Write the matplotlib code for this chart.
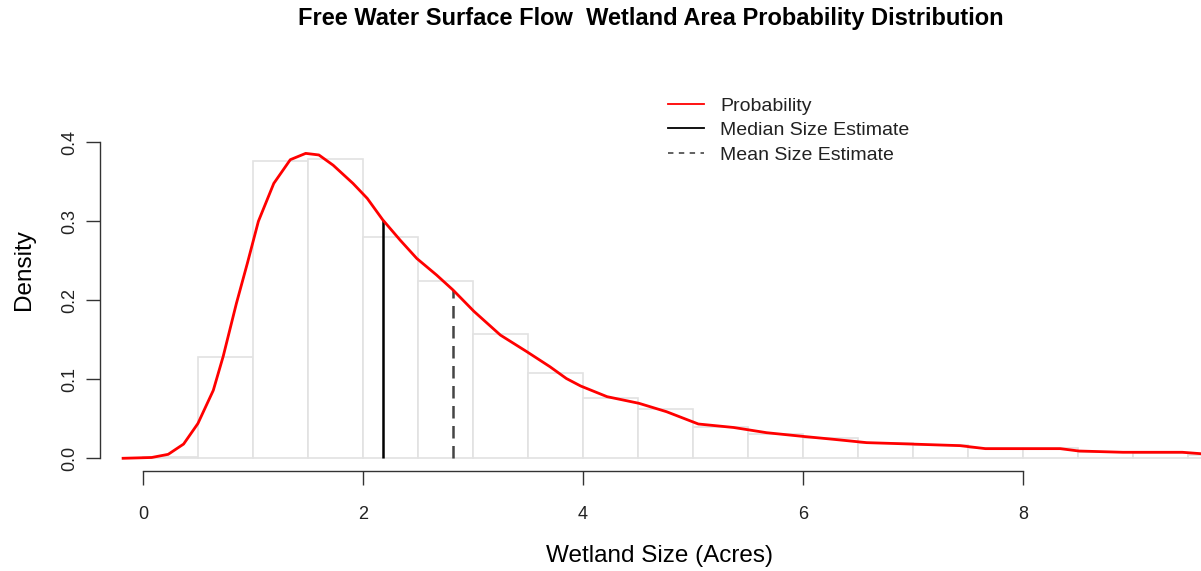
#  Import libraries
import numpy as np
import matplotlib.pyplot as plt
from matplotlib.lines import Line2D

# Histogram of wetland sizes (density scale, bins of 0.5 acre)
bin_left = [0.0, 0.5, 1.0, 1.5, 2.0, 2.5, 3.0, 3.5, 4.0, 4.5,
            5.0, 5.5, 6.0, 6.5, 7.0, 7.5, 8.0, 8.5, 9.0, 9.5]
bin_density = [0.001, 0.1286, 0.3767, 0.3785, 0.2805, 0.2248, 0.157, 0.1076, 0.0767, 0.0624,
               0.0392, 0.0308, 0.0253, 0.019, 0.0169, 0.0127, 0.0127, 0.0084, 0.0063, 0.004]

# Kernel density estimate of wetland size
kde_x = [-0.18, 0.08, 0.23, 0.37, 0.50, 0.64, 0.73, 0.85, 0.95, 1.05, 1.19, 1.34, 1.48,
         1.60, 1.73, 1.91, 2.04, 2.18, 2.34, 2.49, 2.67, 2.82, 3.01, 3.25, 3.49, 3.70,
         3.85, 3.98, 4.22, 4.51, 4.76, 5.05, 5.37, 5.67, 5.98, 6.28, 6.58, 6.88, 7.25,
         7.43, 7.66, 8.34, 8.51, 8.91, 9.45, 9.62]
kde_y = [0.0, 0.001, 0.005, 0.018, 0.044, 0.086, 0.129, 0.196, 0.247, 0.300, 0.348, 0.378, 0.386,
         0.384, 0.371, 0.348, 0.329, 0.302, 0.276, 0.253, 0.232, 0.213, 0.186, 0.156, 0.135, 0.116,
         0.101, 0.0915, 0.078, 0.0696, 0.059, 0.0434, 0.039, 0.0324, 0.028, 0.024, 0.0198, 0.0185, 0.0168,
         0.016, 0.0122, 0.0122, 0.0092, 0.0076, 0.0076, 0.0058]

# Summary estimates
median_size = 2.18
median_dens = 0.302
mean_size = 2.82
mean_dens = 0.213

x_ticks = [0, 2, 4, 6, 8]
y_ticks = [0.0, 0.1, 0.2, 0.3, 0.4]

plt.rcParams['font.family'] = ['Liberation Sans', 'DejaVu Sans']

fig = plt.figure(figsize=(12.01, 5.71), dpi=100)
ax = fig.add_axes([100 / 1201, 100 / 571, 1101 / 1201, 341 / 571])

# Histogram outline
ax.bar(bin_left, bin_density, width=0.5, align='edge', facecolor='white',
       edgecolor='#e2e2e2', linewidth=1.2, zorder=1)

# Density curve
ax.plot(kde_x, kde_y, color='red', linewidth=2.0, zorder=3)

# Median and mean markers
ax.vlines(median_size, 0, median_dens, color='black', linewidth=1.8, zorder=2)
ax.vlines(mean_size, 0, mean_dens, color='#444444', linewidth=1.8,
          linestyles=(0, (5, 3)), zorder=2)

ax.set_xlim(-0.39, 9.62)
ax.set_ylim(-0.0161, 0.4156)

# R-style axes: only left and bottom, spanning the tick range
for side in ['top', 'right']:
    ax.spines[side].set_visible(False)
ax.spines['bottom'].set_bounds(0, 8)
ax.spines['left'].set_bounds(0, 0.4)
for side in ['bottom', 'left']:
    ax.spines[side].set_color('#333333')
    ax.spines[side].set_linewidth(1.0)

ax.set_xticks(x_ticks)
ax.set_xticklabels([str(t) for t in x_ticks])
ax.set_yticks(y_ticks)
ax.set_yticklabels(['%.1f' % t for t in y_ticks], rotation=90, va='center')
ax.tick_params(axis='both', direction='out', length=10, width=1.0, color='#333333',
               labelsize=13, labelcolor='#222222')
ax.tick_params(axis='x', pad=15)
ax.tick_params(axis='y', pad=6)

# Titles and axis labels
fig.text(651 / 1201, 1 - 18 / 571, 'Free Water Surface Flow  Wetland Area Probability Distribution',
         ha='center', va='center', fontsize=17, fontweight='bold')
fig.text(660 / 1201, 1 - 556 / 571, 'Wetland Size (Acres)', ha='center', va='center', fontsize=17.5)
fig.text(24 / 1201, 1 - 270 / 571, 'Density', ha='center', va='center', fontsize=17.5, rotation=90)

# Legend
handles = [Line2D([], [], color='red', linewidth=1.3),
           Line2D([], [], color='black', linewidth=1.3),
           Line2D([], [], color='#555555', linewidth=1.3, linestyle=(0, (3, 3)))]
labels = ['Probability', 'Median Size Estimate', 'Mean Size Estimate']
ax.legend(handles, labels, loc='upper left', bbox_to_anchor=(668 / 1201, 1 - 97 / 571),
          bbox_transform=fig.transFigure, frameon=False, fontsize=14, handlelength=1.85,
          handletextpad=0.85, labelspacing=0.36, borderpad=0, borderaxespad=0,
          labelcolor='#222222')

plt.savefig('out.png', dpi=100)
